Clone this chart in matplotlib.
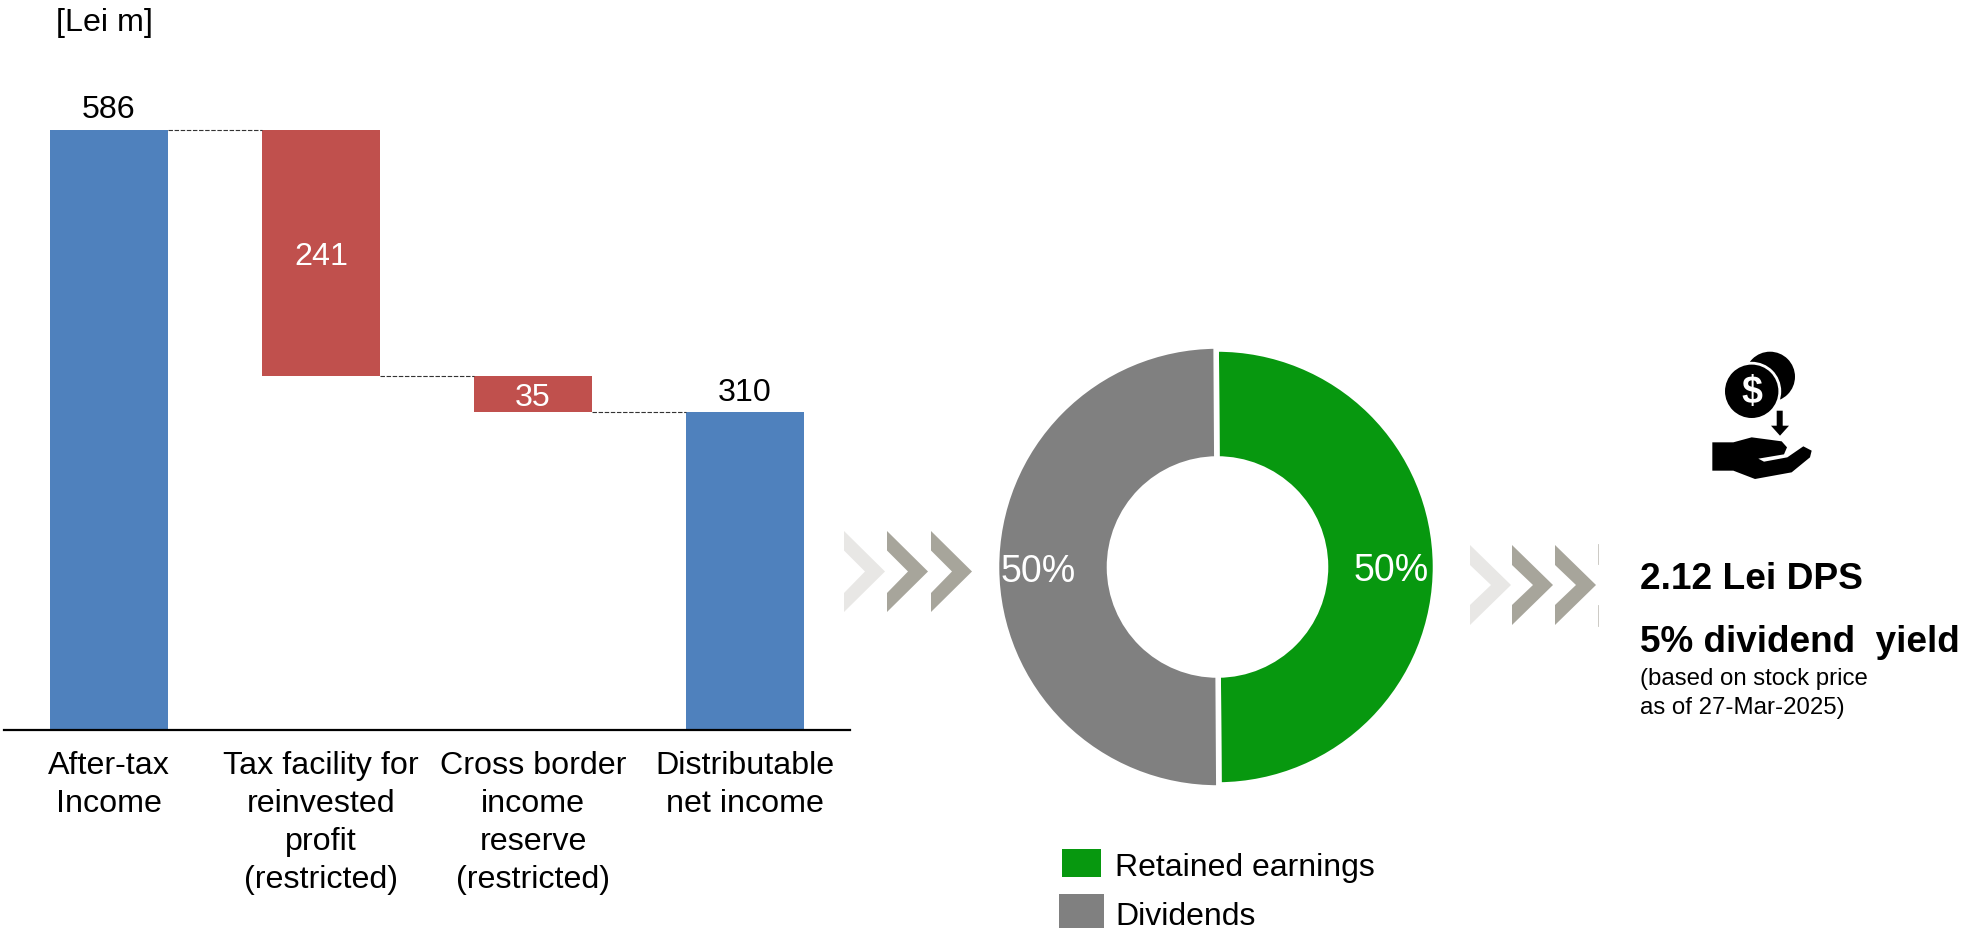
import matplotlib
matplotlib.use('Agg')
import matplotlib.pyplot as plt
from matplotlib.patches import Polygon, Circle, Rectangle

plt.rcParams['font.family'] = ['Liberation Sans', 'DejaVu Sans']

# data
categories = ['After-tax\nIncome', 'Tax facility for\nreinvested\nprofit\n(restricted)',
              'Cross border\nincome\nreserve\n(restricted)', 'Distributable\nnet income']
bar_bottom = [0, 345, 310, 0]
bar_height = [586, 241, 35, 310]
bar_labels = ['586', '241', '35', '310']
bar_colors = ['#4F81BD', '#C0504D', '#C0504D', '#4F81BD']
connectors = [586, 345, 310]

donut_labels = ['Retained earnings', 'Dividends']
donut_values = [50, 50]
donut_colors = ['#07980F', '#808080']

W, H = 1966, 937
FS = 23.2

fig = plt.figure(figsize=(W / 100, H / 100), dpi=100)

# full figure layer in pixels, for text and shapes
bg = fig.add_axes([0, 0, 1, 1])
bg.set_xlim(0, W)
bg.set_ylim(H, 0)
bg.axis('off')
bg.set_zorder(5)

# waterfall
ax = fig.add_axes([4 / W, (H - 730.5) / H, 846 / W, 600 / H])
ax.patch.set_alpha(0)
ax.bar(range(4), bar_height, bottom=bar_bottom, width=118 / 212, color=bar_colors)
ax.set_xlim(-105 / 212, 741 / 212)
ax.set_ylim(0, 586)
for s in ['top', 'left', 'right']:
    ax.spines[s].set_visible(False)
ax.spines['bottom'].set_linewidth(1.6)
ax.spines['bottom'].set_color('black')
ax.set_yticks([])
ax.set_xticks([])
for i, y in enumerate(connectors):
    ax.plot([i + 59 / 212, i + 1 - 59 / 212], [y, y], color='#333333', lw=0.8,
            dashes=(4, 1.5), clip_on=False)
for i in range(4):
    lab = bar_labels[i]
    if bar_colors[i] == '#4F81BD':
        ax.text(i, bar_bottom[i] + bar_height[i] + 5, lab, ha='center', va='bottom',
                fontsize=FS, color='black')
    else:
        ax.text(i, bar_bottom[i] + bar_height[i] / 2 - 3, lab, ha='center', va='center',
                fontsize=FS, color='white')
    ax.text(i, -20, categories[i], ha='center', va='top', fontsize=FS,
            linespacing=1.35, color='black')

bg.text(56, 23.5, '[Lei m]', ha='left', va='center', fontsize=FS)

# donut
ax2 = fig.add_axes([(1217.5 - 240) / W, (H - 568 - 240) / H, 480 / W, 480 / H])
wedges, _ = ax2.pie(donut_values, colors=donut_colors, startangle=90.35, counterclock=False,
                    radius=218, wedgeprops=dict(width=110, edgecolor='white', linewidth=4))
wedges[1].set_radius(221)
wedges[1].set_width(113)
ax2.set_xlim(-240, 240)
ax2.set_ylim(-240, 240)
bg.text(1391, 571, '50%', color='white', fontsize=27, ha='center', va='center')
bg.text(1038, 572.5, '50%', color='white', fontsize=27, ha='center', va='center')

# legend
bg.add_patch(Rectangle((1062, 850), 39, 28, color=donut_colors[0], lw=0))
bg.add_patch(Rectangle((1059, 895), 45, 34, color=donut_colors[1], lw=0))
bg.text(1115, 868.5, donut_labels[0], fontsize=23, va='center', ha='left')
bg.text(1115, 917.5, donut_labels[1], fontsize=23, va='center', ha='left')

# chevrons
for x, c in zip([844, 887, 931], ['#E8E7E5', '#A7A59B', '#A7A59B']):
    bg.add_patch(Polygon([(x, 532), (x + 41, 572.5), (x, 613), (x, 594), (x + 21, 572.5),
                          (x, 551.5)], closed=True, color=c, lw=0))
for x, c in zip([1470, 1512, 1555], ['#E8E7E5', '#A7A59B', '#A7A59B']):
    bg.add_patch(Polygon([(x, 546), (x + 41, 586), (x, 626), (x, 606), (x + 21, 586),
                          (x, 566)], closed=True, color=c, lw=0))
bg.plot([1598, 1598], [545, 565], color='#C4C2BB', lw=0.6)
bg.plot([1598, 1598], [606, 627], color='#C4C2BB', lw=0.6)

# icon
bg.add_patch(Circle((1770, 377.7), 25, color='black', lw=0))
bg.add_patch(Circle((1751.7, 392.3), 29.5, color='white', lw=0))
bg.add_patch(Circle((1751.7, 392.3), 26.7, color='black', lw=0))
bg.text(1751.7, 393, '$', color='white', fontsize=27, fontweight='bold', ha='center', va='center')
bg.add_patch(Polygon([(1776.7, 411.7), (1782.7, 411.7), (1782.7, 426.7), (1789, 426.7), (1780, 436.7),
                      (1771, 426.7), (1776.7, 426.7)], closed=True, color='black', lw=0))
hand = [(217, 340), (280, 340), (335, 325), (425, 337), (441, 355), (432, 376), (355, 389), (372, 398),
        (442, 385), (490, 352), (515, 365), (510, 385), (455, 430), (345, 450), (280, 425), (217, 425)]
bg.add_patch(Polygon([(1640 + a / 3, 330 + b / 3) for a, b in hand], closed=True, color='black', lw=0))

# dividend text
bg.text(1640, 580, '2.12 Lei DPS', fontsize=26.7, fontweight='bold', va='center', ha='left')
bg.text(1640, 642.5, '5% dividend  yield', fontsize=26.6, fontweight='bold', va='center', ha='left')
bg.text(1640, 679.5, '(based on stock price', fontsize=17.3, va='center', ha='left')
bg.text(1640, 708.5, 'as of 27-Mar-2025)', fontsize=17.3, va='center', ha='left')

plt.savefig('out.png', dpi=100)
